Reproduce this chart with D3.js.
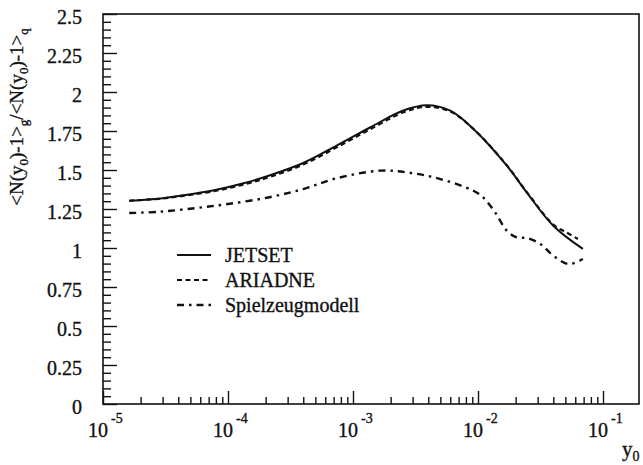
<!DOCTYPE html>
<html>
<head>
<meta charset="utf-8">
<script src="https://cdn.jsdelivr.net/npm/d3@7"></script>
<style>
  html, body { margin: 0; padding: 0; background: #fff; }
  svg { display: block; }
  svg text { font-family: "Liberation Serif", "DejaVu Serif", serif; fill: #111; stroke: #111; stroke-width: 0.35px; }
</style>
</head>
<body>
<svg id="chart" width="643" height="465" font-family="Liberation Serif, DejaVu Serif, serif"></svg>
<script>
// ---- data ----
const jetsetX = [1.62e-5, 2.9e-5, 4.0e-5, 7.9e-5, 1.38e-4, 2.2e-4, 4.0e-4, 7.4e-4, 1.38e-3, 2.5e-3, 3.9e-3, 6.0e-3, 9.2e-3, 1.7e-2, 2.45e-2, 4.0e-2, 6.9e-2];
const jetsetY = [1.303, 1.318, 1.333, 1.372, 1.418, 1.468, 1.545, 1.656, 1.774, 1.88, 1.915, 1.88, 1.763, 1.528, 1.357, 1.143, 0.994];

const ariadneX = [1.62e-5, 2.9e-5, 4.0e-5, 7.9e-5, 1.38e-4, 2.2e-4, 4.0e-4, 7.4e-4, 1.38e-3, 2.5e-3, 3.9e-3, 6.0e-3, 9.2e-3, 1.7e-2, 2.45e-2, 4.0e-2, 5.1e-2, 6.3e-2];
const ariadneY = [1.303, 1.316, 1.330, 1.366, 1.410, 1.458, 1.535, 1.645, 1.762, 1.868, 1.905, 1.875, 1.763, 1.530, 1.360, 1.150, 1.100, 1.058];

const spielX = [1.62e-5, 2.9e-5, 5.5e-5, 1.0e-4, 2.1e-4, 4.0e-4, 7.4e-4, 1.66e-3, 2.9e-3, 5.0e-3, 9.2e-3, 1.1e-2, 1.37e-2, 1.7e-2, 2.04e-2, 2.45e-2, 3.15e-2, 4.0e-2, 5.3e-2, 6.9e-2];
const spielY = [1.224, 1.233, 1.256, 1.282, 1.324, 1.378, 1.447, 1.496, 1.481, 1.442, 1.367, 1.324, 1.229, 1.111, 1.068, 1.064, 1.026, 0.951, 0.897, 0.929];

const yTicks = [0, 0.25, 0.5, 0.75, 1, 1.25, 1.5, 1.75, 2, 2.25, 2.5];
const yTickLabels = ["0", "0.25", "0.5", "0.75", "1", "1.25", "1.5", "1.75", "2", "2.25", "2.5"];
const xDecades = [1e-5, 1e-4, 1e-3, 1e-2, 1e-1];
const xExponents = ["-5", "-4", "-3", "-2", "-1"];
const legendNames = ["JETSET", "ARIADNE", "Spielzeugmodell"];

// ---- layout ----
const svg = d3.select("#chart");
const L = 103, R = 639, T = 14, B = 404;
const x = d3.scaleLog().domain([1e-5, Math.pow(10, -0.712)]).range([L, R]);
const y = d3.scaleLinear().domain([0, 2.5]).range([B, T]);
const ink = "#111";
const FF = "Liberation Serif, DejaVu Serif, serif";

// frame
svg.append("rect").attr("x", L).attr("y", T).attr("width", R - L).attr("height", B - T)
  .attr("fill", "none").attr("stroke", ink).attr("stroke-width", 1.6);

// y axis ticks (inward)
const yMinor = d3.range(0, 2.5001, 0.05).filter(v => Math.abs(v / 0.25 - Math.round(v / 0.25)) > 1e-6);
const yAxisMajor = d3.axisLeft(y).tickValues(yTicks).tickSizeInner(-14).tickSizeOuter(0).tickFormat("");
const yAxisMinor = d3.axisLeft(y).tickValues(yMinor).tickSizeInner(-8).tickSizeOuter(0).tickFormat("");
const gy1 = svg.append("g").attr("transform", `translate(${L},0)`).call(yAxisMajor);
const gy2 = svg.append("g").attr("transform", `translate(${L},0)`).call(yAxisMinor);
[gy1, gy2].forEach(g => { g.select(".domain").remove(); g.selectAll("line").attr("stroke", ink).attr("stroke-width", 1.4); });

// y tick labels
svg.append("g").selectAll("text").data(yTicks).join("text")
  .attr("font-family", FF)
  .attr("x", 82).attr("y", d => y(d) + 9.5)
  .attr("text-anchor", "end").attr("font-size", 20)
  .text((d, i) => yTickLabels[i]);

// x axis ticks (inward)
const xMinor = [];
xDecades.forEach(dec => { for (let k = 2; k <= 9; k++) { const v = dec * k; if (v <= x.domain()[1]) xMinor.push(v); } });
const xAxisMajor = d3.axisBottom(x).tickValues(xDecades).tickSizeInner(-13).tickSizeOuter(0).tickFormat("");
const xAxisMinor = d3.axisBottom(x).tickValues(xMinor).tickSizeInner(-7).tickSizeOuter(0).tickFormat("");
const gx1 = svg.append("g").attr("transform", `translate(0,${B})`).call(xAxisMajor);
const gx2 = svg.append("g").attr("transform", `translate(0,${B})`).call(xAxisMinor);
[gx1, gx2].forEach(g => { g.select(".domain").remove(); g.selectAll("line").attr("stroke", ink).attr("stroke-width", 1.4); });

// x tick labels: 10^n
const xl = svg.append("g").attr("font-family", FF).selectAll("g").data(xDecades).join("g");
xl.append("text").attr("x", d => x(d) + 5).attr("y", 437).attr("text-anchor", "end")
  .attr("font-size", 20).text("10");
xl.append("text").attr("x", d => x(d) + 8).attr("y", 423).attr("text-anchor", "start")
  .attr("font-size", 14).text((d, i) => xExponents[i]);

// x axis title y0
const xt = svg.append("text").attr("font-family", FF).attr("x", 622).attr("y", 456).attr("font-size", 21);
xt.append("tspan").text("y");
xt.append("tspan").attr("font-size", 14).attr("dy", 5).text("0");

// y axis title
const yt = svg.append("text").attr("font-family", FF).attr("transform", "translate(23,117) rotate(-90)")
  .attr("text-anchor", "middle").attr("font-size", 19);
yt.append("tspan").text("<N(y");
yt.append("tspan").attr("font-size", 13).attr("dy", 5).text("0");
yt.append("tspan").attr("dy", -5).text(")-1>");
yt.append("tspan").attr("font-size", 13).attr("dy", 5).text("g");
yt.append("tspan").attr("dy", -5).text("/<N(y");
yt.append("tspan").attr("font-size", 13).attr("dy", 5).text("0");
yt.append("tspan").attr("dy", -5).text(")-1>");
yt.append("tspan").attr("font-size", 13).attr("dy", 5).text("q");

// curves
const line = d3.line().x(d => x(d[0])).y(d => y(d[1])).curve(d3.curveCatmullRom.alpha(0.5));
const series = [
  { name: legendNames[0], xs: jetsetX, ys: jetsetY, dash: null, w: 2 },
  { name: legendNames[1], xs: ariadneX, ys: ariadneY, dash: "5,3.5", w: 2.2 },
  { name: legendNames[2], xs: spielX, ys: spielY, dash: "7,5,2.5,5", w: 2.4 }
];
series.forEach(s => {
  svg.append("path").datum(d3.zip(s.xs, s.ys)).attr("d", line)
    .attr("fill", "none").attr("stroke", ink).attr("stroke-width", s.w)
    .attr("stroke-dasharray", s.dash);
});

// legend
const lg = svg.append("g").attr("font-family", FF).selectAll("g").data(series).join("g")
  .attr("transform", (d, i) => `translate(0,${255 + i * 25})`);
lg.append("line").attr("x1", 177).attr("x2", 211).attr("y1", 0).attr("y2", 0)
  .attr("stroke", ink).attr("stroke-width", d => d.w).attr("stroke-dasharray", d => d.dash);
lg.append("text").attr("x", 225).attr("y", 7).attr("font-size", 20).text(d => d.name);
</script>
</body>
</html>
